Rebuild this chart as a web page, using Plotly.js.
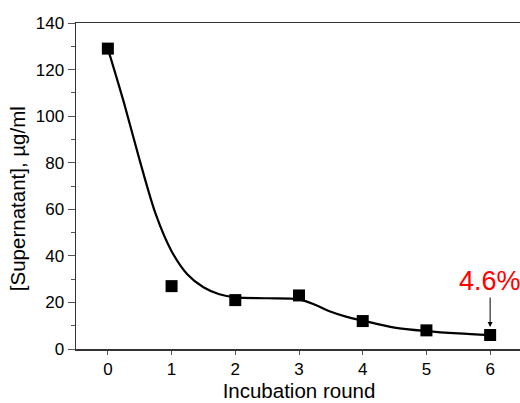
<!DOCTYPE html>
<html>
<head>
<meta charset="utf-8">
<script src="https://cdn.plot.ly/plotly-3.0.1.min.js"></script>
<style>html,body{margin:0;padding:0;background:#fff;overflow:hidden;}#chart{width:540px;height:403px;}</style>
</head>
<body>
<div id="chart"></div>
<script>
// Measured points
const rounds = [0, 1, 2, 3, 4, 5, 6];
const supernatant = [129, 27, 21, 23, 12, 8, 6];

// Fitted curve
const curveX = [0, 0.25, 0.5, 0.75, 1, 1.25, 1.5, 1.75, 2, 2.5, 3, 3.25, 3.5, 3.75, 4, 4.5, 5, 5.5, 6];
const curveY = [129, 106, 81, 58, 42, 32, 26.5, 23.5, 22.2, 21.8, 21.3, 19, 16, 13.8, 12.2, 9.2, 7.7, 6.7, 6];

const xTicks = [0, 1, 2, 3, 4, 5, 6];
const yTicks = [0, 20, 40, 60, 80, 100, 120, 140];
const xTitle = "Incubation round";
const yTitle = "[Supernatant], µg/ml";
const noteText = "4.6%";
const noteIndex = 6;

const font = "Arial, 'Liberation Sans', sans-serif";

const traces = [
  {
    x: curveX, y: curveY, type: "scatter", mode: "lines",
    line: {color: "#000", width: 2.2, shape: "spline", smoothing: 0.85},
    hoverinfo: "skip", showlegend: false
  },
  {
    x: rounds, y: supernatant, type: "scatter", mode: "markers",
    marker: {symbol: "square", size: 12, color: "#000"},
    showlegend: false
  }
];

const layout = {
  width: 540, height: 403,
  margin: {l: 76, r: 18, t: 23, b: 54},
  paper_bgcolor: "#fff", plot_bgcolor: "#fff",
  font: {family: font, color: "#000", size: 17},
  xaxis: {
    range: [-0.5, 6.5], tickvals: xTicks, ticktext: xTicks.map(String),
    showgrid: false, zeroline: false,
    showline: true, linecolor: "#333", linewidth: 1.5, mirror: true,
    ticks: "outside", ticklen: 4, tickwidth: 1, tickcolor: "#555",
    tickfont: {family: font, size: 17, color: "#000"},
    title: {text: xTitle, font: {family: font, size: 20.5, color: "#000"}, standoff: 4},
    automargin: false
  },
  yaxis: {
    range: [0, 140], tickvals: yTicks, ticktext: yTicks.map(String),
    showgrid: false, zeroline: false,
    showline: true, linecolor: "#333", linewidth: 1.5, mirror: false,
    ticks: "outside", ticklen: 7, tickwidth: 1, tickcolor: "#555",
    minor: {dtick: 10, ticks: "outside", ticklen: 4, tickcolor: "#555", showgrid: false},
    tickfont: {family: font, size: 17, color: "#000"},
    automargin: false
  },
  annotations: [
    {
      x: rounds[noteIndex], y: supernatant[noteIndex], xref: "x", yref: "y",
      text: noteText, showarrow: true, arrowhead: 2, arrowsize: 1, arrowwidth: 1,
      arrowcolor: "#000", ax: 0, ay: -54, standoff: 8,
      font: {family: font, size: 27, color: "#ff0000"}
    },
    {
      x: -0.132, y: 0.46, xref: "paper", yref: "paper",
      xanchor: "center", yanchor: "middle", textangle: -90, showarrow: false,
      text: yTitle, font: {family: font, size: 20.5, color: "#000"}
    }
  ]
};

Plotly.newPlot("chart", traces, layout, {displayModeBar: false, staticPlot: true});
</script>
</body>
</html>
